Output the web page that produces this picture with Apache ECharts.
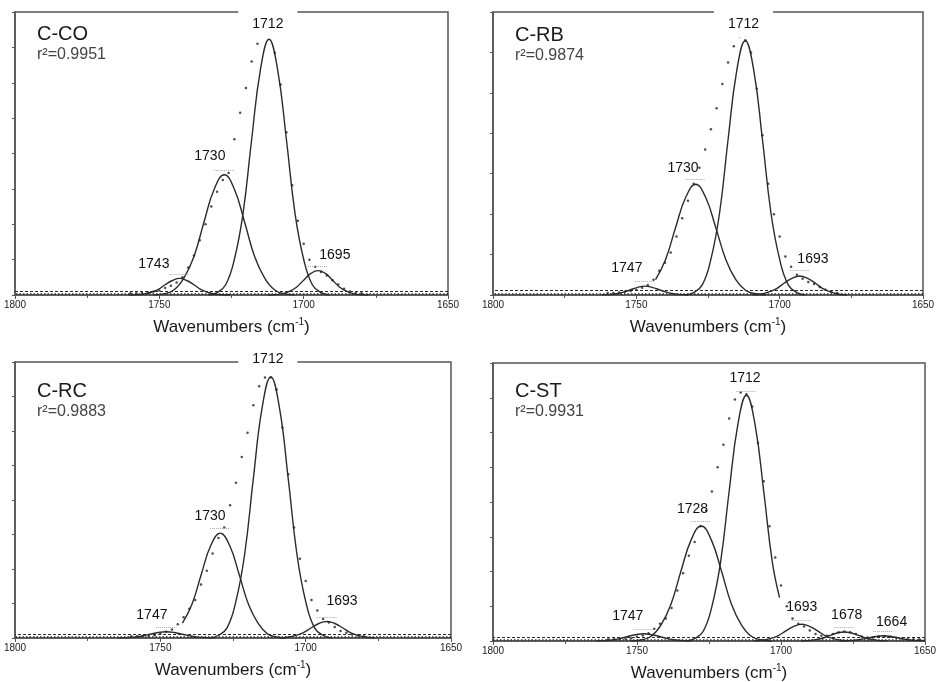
<!DOCTYPE html>
<html>
<head>
<meta charset="utf-8">
<title>C=O band deconvolution</title>
<script src="https://cdn.jsdelivr.net/npm/echarts@6/dist/echarts.min.js"></script>
<style>
  html, body { margin: 0; padding: 0; background: #fff; }
  #chart { width: 938px; height: 682px; }
</style>
</head>
<body>
<div id="chart"></div>
<script>
// panel names and goodness of fit
const panelNames = ['C-CO', 'C-RB', 'C-RC', 'C-ST'];
const r2Values = ['0.9951', '0.9874', '0.9883', '0.9931'];
const yMax = [8, 7, 8, 8]; // number of (unlabelled) tick steps on each y axis
const baselineLevels = [0.12, 0.04]; // dashed line, dotted zero line

// fitted bands [wavenumber, absorbance]
const fitCO = [
  [[1725.5,0],[1728,0.005],[1730.5,0.02],[1733,0.07],[1735.5,0.15],[1738,0.29],[1740.5,0.41],[1743,0.47],[1745.5,0.41],[1748,0.29],[1750.5,0.15],[1753,0.07],[1755.5,0.02],[1758,0.005],[1760.5,0]],
  [[1703,0],[1706.5,0.03],[1710,0.14],[1713.5,0.48],[1717,1.09],[1720.5,2.07],[1724,2.99],[1727.5,3.40],[1731,2.99],[1734.5,2.07],[1738,1.09],[1741.5,0.48],[1745,0.14],[1748.5,0.03],[1752,0]],
  [[1691,0],[1694,0.07],[1697,0.29],[1700,1.01],[1703,2.31],[1706,4.41],[1709,6.36],[1712,7.23],[1715,6.36],[1718,4.41],[1721,2.31],[1724,1.01],[1727,0.29],[1730,0.07],[1733,0]],
  [[1677.5,0],[1680,0.007],[1682.5,0.03],[1685,0.10],[1687.5,0.22],[1690,0.42],[1692.5,0.61],[1695,0.69],[1697.5,0.61],[1700,0.42],[1702.5,0.22],[1705,0.10],[1707.5,0.03],[1710,0.007],[1712.5,0]]
];
const fitRB = [
  [[1732,0],[1734.5,0.01],[1737,0.03],[1739.5,0.07],[1742,0.13],[1744.5,0.19],[1747,0.22],[1749.5,0.19],[1752,0.13],[1754.5,0.07],[1757,0.03],[1759.5,0.01],[1762,0]],
  [[1704.8,0],[1708.3,0.03],[1711.8,0.11],[1715.3,0.38],[1718.8,0.88],[1722.3,1.67],[1725.8,2.41],[1729.3,2.74],[1732.8,2.41],[1736.3,1.67],[1739.8,0.88],[1743.3,0.38]],
  [[1691,0],[1694,0.06],[1697,0.25],[1700,0.88],[1703,2.01],[1706,3.84],[1709,5.54],[1712,6.29],[1715,5.54],[1718,3.84],[1721,2.01],[1724,0.88],[1727,0.25],[1730,0.06],[1733,0]],
  [[1676.5,0],[1679.25,0.02],[1682,0.07],[1684.75,0.15],[1687.5,0.29],[1690.25,0.41],[1693,0.47],[1695.75,0.41],[1698.5,0.29],[1701.25,0.15],[1704,0.07],[1706.75,0.02],[1709.5,0]]
];
const fitRC = [
  [[1731.5,0],[1734.25,0.01],[1737,0.025],[1739.75,0.06],[1742.5,0.11],[1745.25,0.16],[1748,0.18],[1750.75,0.16],[1753.5,0.11],[1756.25,0.06],[1759,0.025],[1761.75,0.01],[1764.5,0]],
  [[1706.65,0],[1709.9,0.03],[1713.15,0.12],[1716.4,0.43],[1719.65,0.97],[1722.9,1.85],[1726.15,2.68],[1729.4,3.04],[1732.65,2.68],[1735.9,1.85],[1739.15,0.97],[1742.4,0.43]],
  [[1691,0],[1694,0.08],[1697,0.30],[1700,1.06],[1703,2.42],[1706,4.62],[1709,6.66],[1712,7.57],[1715,6.66],[1718,4.62],[1721,2.42],[1724,1.06],[1727,0.30],[1730,0.08],[1733,0]],
  [[1676.2,0],[1678.95,0.02],[1681.7,0.07],[1684.45,0.15],[1687.2,0.29],[1689.95,0.42],[1692.7,0.48],[1695.45,0.42],[1698.2,0.29],[1700.95,0.15],[1703.7,0.07],[1706.45,0.02],[1709.2,0]]
];
const fitST = [
  [[1731.2,0],[1733.95,0.01],[1736.7,0.03],[1739.45,0.07],[1742.2,0.13],[1744.95,0.18],[1747.7,0.21],[1750.45,0.18],[1753.2,0.13],[1755.95,0.07],[1758.7,0.03],[1761.45,0.01],[1764.2,0]],
  [[1703.2,0],[1706.7,0.03],[1710.2,0.13],[1713.7,0.46],[1717.2,1.06],[1720.7,2.02],[1724.2,2.91],[1727.7,3.31],[1731.2,2.91],[1734.7,2.02],[1738.2,1.06],[1741.7,0.46],[1745.2,0.13],[1748.7,0.03],[1752.2,0]],
  [[1700.5,1.25],[1703,2.26],[1706,4.31],[1709,6.22],[1712,7.07],[1715,6.22],[1718,4.31],[1721,2.26],[1724,0.99],[1727,0.28],[1730,0.07],[1733,0]],
  [[1676.3,0],[1679.05,0.02],[1681.8,0.07],[1684.55,0.15],[1687.3,0.29],[1690.05,0.42],[1692.8,0.48],[1695.55,0.42],[1698.3,0.29],[1701.05,0.15],[1703.8,0.07],[1706.55,0.02],[1709.3,0]],
  [[1663,0],[1665.5,0.01],[1668,0.04],[1670.5,0.08],[1673,0.16],[1675.5,0.23],[1678,0.26],[1680.5,0.23],[1683,0.16],[1685.5,0.08],[1688,0.04],[1690.5,0.01],[1693,0]],
  [[1650,0.005],[1652,0.01],[1654.5,0.02],[1657,0.05],[1659.5,0.09],[1662,0.13],[1664.5,0.15],[1667,0.13],[1669.5,0.09],[1672,0.05],[1674.5,0.02],[1677,0.01],[1679.5,0]]
];

// measured spectrum (dots)
const dotWavenumbers = [1760,1758,1756,1754,1752,1750,1748,1746,1744,1742,1740,1738,1736,1734,1732,1730,1728,1726,1724,1722,1720,1718,1716,1714,1712,1710,1708,1706,1704,1702,1700,1698,1696,1694,1692,1690,1688,1686,1684,1682,1680];
const dotWavenumbersST = [1760,1758,1756,1754,1752,1750,1748,1746,1744,1742,1740,1738,1736,1734,1732,1730,1728,1726,1724,1722,1720,1718,1716,1714,1712,1710,1708,1706,1704,1702,1700,1698,1696,1694,1692,1690,1688,1686,1684,1682,1680,1678,1676,1674,1672,1670,1668,1666,1664,1662,1660,1658,1656,1654,1652];
const dotsCO = [0.05,0.05,0.06,0.08,0.1,0.13,0.2,0.26,0.35,0.5,0.78,1.12,1.55,2.0,2.5,2.92,3.25,3.45,4.4,5.15,5.85,6.6,7.1,7.3,7.3,6.85,5.95,4.6,3.1,2.1,1.45,1.0,0.8,0.65,0.55,0.42,0.3,0.18,0.1,0.06,0.05];
const dotsRB = [0.05,0.05,0.06,0.08,0.1,0.13,0.18,0.25,0.38,0.6,0.8,1.05,1.45,1.9,2.33,2.75,3.15,3.6,4.1,4.62,5.22,5.75,6.15,6.38,6.3,6.0,5.1,3.95,2.75,2.0,1.45,0.95,0.7,0.5,0.4,0.32,0.27,0.2,0.13,0.08,0.05];
const dotsRC = [0.05,0.05,0.05,0.06,0.08,0.12,0.18,0.25,0.4,0.6,0.85,1.1,1.55,1.95,2.45,2.9,3.2,3.85,4.5,5.25,5.95,6.75,7.3,7.55,7.55,7.2,6.1,4.75,3.2,2.3,1.65,1.1,0.8,0.55,0.45,0.32,0.2,0.15,0.1,0.07,0.05];
const dotsST = [0.05,0.05,0.05,0.06,0.08,0.12,0.16,0.22,0.35,0.5,0.65,0.95,1.45,1.95,2.45,2.85,3.3,3.75,4.3,5.0,5.65,6.4,6.95,7.15,7.1,6.75,5.7,4.6,3.3,2.4,1.6,1.0,0.65,0.5,0.42,0.3,0.2,0.15,0.15,0.2,0.25,0.27,0.25,0.2,0.13,0.1,0.1,0.13,0.14,0.12,0.09,0.07,0.05,0.05,0.05];

// peak labels: [text, wavenumber, absorbance] of the label centre
const labelsCO = [['1743',1751.9,0.88],['1730',1732.5,3.93],['1712',1712.4,7.66],['1695',1689.2,1.13]];
const labelsRB = [['1747',1753.3,0.66],['1730',1733.7,3.15],['1712',1712.6,6.71],['1693',1688.4,0.88]];
const labelsRC = [['1747',1752.9,0.67],['1730',1732.9,3.54],['1712',1713.0,8.07],['1693',1687.5,1.06]];
const labelsST = [['1747',1753.2,0.71],['1728',1730.7,3.79],['1712',1712.5,7.55],['1693',1692.8,0.96],['1678',1677.2,0.74],['1664',1661.6,0.55]];

// layout
const fontFamily = '"Liberation Sans", Arial, Helvetica, sans-serif';
const ink = '#2b2b2b';
const frame = '#555';
const layouts = [
  { left: 15, top: 12, width: 433, height: 283, titleTop: 24 },
  { left: 493, top: 12, width: 430, height: 283, titleTop: 25 },
  { left: 15, top: 362, width: 436, height: 276, titleTop: 381 },
  { left: 493, top: 363, width: 432, height: 278, titleTop: 381 }
];
const frameBreaks = [true, true, true, false]; // 1712 label cuts the top frame

const panels = [
  { name: panelNames[0], r2: r2Values[0], fits: fitCO, dotX: dotWavenumbers, dotY: dotsCO, labels: labelsCO },
  { name: panelNames[1], r2: r2Values[1], fits: fitRB, dotX: dotWavenumbers, dotY: dotsRB, labels: labelsRB },
  { name: panelNames[2], r2: r2Values[2], fits: fitRC, dotX: dotWavenumbers, dotY: dotsRC, labels: labelsRC },
  { name: panelNames[3], r2: r2Values[3], fits: fitST, dotX: dotWavenumbersST, dotY: dotsST, labels: labelsST }
];

function peakTop(curve) {
  return curve.reduce(function (a, p) { return p[1] > a[1] ? p : a; });
}

const option = {
  animation: false,
  backgroundColor: '#fff',
  textStyle: { fontFamily: fontFamily },
  title: [], grid: [], xAxis: [], yAxis: [], series: []
};

panels.forEach(function (p, i) {
  const box = layouts[i];

  option.title.push({
    text: p.name,
    subtext: 'r²=' + p.r2,
    left: box.left + 22,
    top: box.titleTop,
    padding: 0,
    itemGap: 3,
    textStyle: { fontSize: 20, fontWeight: 'normal', color: '#1a1a1a', fontFamily: fontFamily },
    subtextStyle: { fontSize: 16, color: '#444', fontFamily: fontFamily }
  });

  option.grid.push({
    left: box.left, top: box.top, width: box.width, height: box.height,
    show: true, borderColor: frame, borderWidth: 1.5, backgroundColor: 'transparent',
    containLabel: false, outerBoundsMode: 'none'
  });

  option.xAxis.push({
    gridIndex: i,
    type: 'value',
    inverse: true,
    min: 1650,
    max: 1800,
    interval: 50,
    axisLine: { show: true, onZero: false, lineStyle: { color: frame, width: 1.5 } },
    axisTick: { show: true, inside: false, length: 4, lineStyle: { color: frame } },
    minorTick: { show: true, splitNumber: 2, length: 3, lineStyle: { color: frame } },
    axisLabel: {
      fontSize: 10, color: '#222', margin: 5, fontFamily: fontFamily,
      formatter: function (v) { return String(v); }
    },
    splitLine: { show: false },
    minorSplitLine: { show: false },
    name: 'Wavenumbers (cm{sup|-1})',
    nameLocation: 'middle',
    nameGap: 22,
    nameTextStyle: {
      fontSize: 17, color: '#1a1a1a', fontFamily: fontFamily, lineHeight: 20,
      rich: { sup: { fontSize: 10, lineHeight: 10, verticalAlign: 'top', color: '#1a1a1a', fontFamily: fontFamily } }
    }
  });

  option.yAxis.push({
    gridIndex: i,
    type: 'value',
    min: 0,
    max: yMax[i],
    interval: 1,
    axisLine: { show: true, lineStyle: { color: frame, width: 1.5 } },
    axisTick: { show: true, inside: false, length: 3, lineStyle: { color: frame } },
    axisLabel: { show: false },
    splitLine: { show: false }
  });

  // fitted component bands
  p.fits.forEach(function (curve) {
    const top = peakTop(curve);
    option.series.push({
      type: 'line',
      xAxisIndex: i,
      yAxisIndex: i,
      data: curve,
      smooth: 0.45,
      symbol: 'none',
      silent: true,
      z: 3,
      lineStyle: { color: ink, width: 1.4 },
      markLine: {
        silent: true,
        symbol: ['none', 'none'],
        label: { show: false },
        lineStyle: { type: 'dotted', color: '#aaa', width: 1 },
        data: [[{ coord: [top[0] + 3.5, top[1] + 0.13] }, { coord: [top[0] - 3.5, top[1] + 0.13] }]]
      }
    });
  });

  // measured points and baselines
  option.series.push({
    type: 'scatter',
    xAxisIndex: i,
    yAxisIndex: i,
    data: p.dotX.map(function (x, k) { return [x, p.dotY[k]]; }),
    symbolSize: 2.5,
    silent: true,
    z: 4,
    itemStyle: { color: '#222' },
    markLine: {
      silent: true,
      symbol: ['none', 'none'],
      label: { show: false },
      data: [
        { yAxis: baselineLevels[0], lineStyle: { type: [3, 2], color: ink, width: 1 } },
        { yAxis: baselineLevels[1], lineStyle: { type: [1.5, 2], color: ink, width: 1.6 } }
      ]
    }
  });

  // peak labels
  option.series.push({
    type: 'scatter',
    xAxisIndex: i,
    yAxisIndex: i,
    clip: false,
    silent: true,
    z: 10,
    symbol: 'rect',
    symbolSize: 1,
    itemStyle: { color: '#fff', opacity: 1 },
    label: {
      show: true, position: 'inside', formatter: '{b}', fontSize: 14,
      color: '#111', opacity: 1, textBorderWidth: 0, fontFamily: fontFamily
    },
    data: p.labels.map(function (l) {
      const item = { name: l[0], value: [l[1], l[2]] };
      if (frameBreaks[i] && l[0] === '1712') {
        item.label = { backgroundColor: '#fff', padding: [7, 14] };
      }
      return item;
    })
  });
});

const chart = echarts.init(document.getElementById('chart'), null, { renderer: 'canvas' });
chart.setOption(option);
</script>
</body>
</html>
